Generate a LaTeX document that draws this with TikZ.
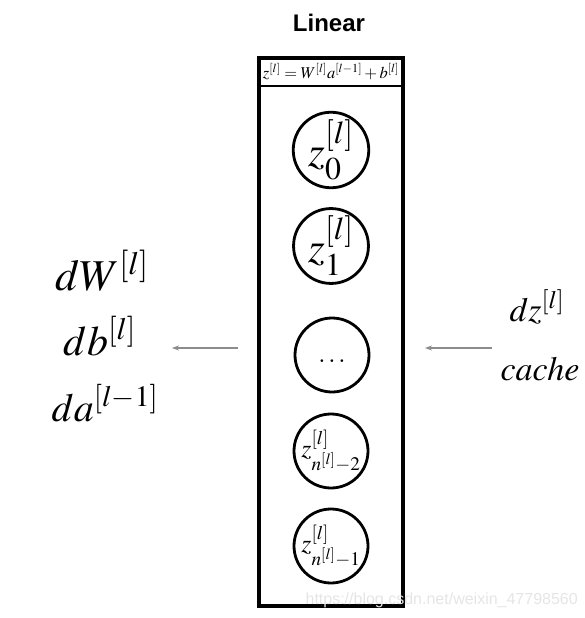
\documentclass[tikz,border=0pt]{standalone}
\usepackage{mathptmx}
\usepackage{fontspec}
\newfontfamily\headfont{Liberation Sans}
\usetikzlibrary{arrows.meta}
\begin{document}
\begin{tikzpicture}[x=1pt,y=-1pt,
  unit/.style={circle,draw=black,line width=2.8pt,minimum size=74pt,inner sep=0pt},
  grad/.style={anchor=base,inner sep=0pt,font=\fontsize{43}{46}\selectfont},
  rgrad/.style={anchor=base,inner sep=0pt,font=\fontsize{34}{38}\selectfont},
  flow/.style={draw=gray!90,line width=1.1pt,-{Stealth[length=7pt,width=5pt]}}]
\useasboundingbox (0,0) rectangle (585,618);
\node[font=\headfont\bfseries\fontsize{24}{28}\selectfont,anchor=base,inner sep=0pt] (title) at (329,32) {Linear};
\node[draw=black,line width=3.5pt,minimum width=144pt,minimum height=548pt,inner sep=0pt] (box) at (331,332) {};
\coordinate (sl) at (259,86);
\coordinate (sr) at (403,86);
\draw[line width=1.8pt] (sl) -- (sr);
\node[font=\fontsize{16.5}{18}\selectfont,inner sep=0pt,anchor=base] (eq) at (331,78) {$z^{[l]}=W^{[l]}a^{[l-1]}+b^{[l]}$};
\node[unit,font=\fontsize{43}{46}\selectfont] (c0) at (331,150) {$z_0^{[l]}$};
\node[unit,font=\fontsize{43}{46}\selectfont] (c1) at (331,246) {$z_1^{[l]}$};
\node[unit,font=\fontsize{26}{27}\selectfont] (c2) at (332,355) {\boldmath$\ldots$\rule{0pt}{14pt}};
\node[unit,font=\fontsize{26}{28}\selectfont] (c3) at (331,451) {$z_{n^{[l]}-2}^{[l]}$};
\node[unit,font=\fontsize{26}{28}\selectfont] (c4) at (331,546) {$z_{n^{[l]}-1}^{[l]}$};
\node[grad,font=\fontsize{44}{46}\selectfont] (dw) at (102,290) {$dW^{[l]}$};
\node[grad,font=\fontsize{42}{46}\selectfont] (db) at (100,355) {$db^{[l]}$};
\node[grad,font=\fontsize{40}{46}\selectfont] (da) at (105,421) {$da^{[l-1]}$};
\node[rgrad] (dz) at (537,321) {$dz^{[l]}$};
\node[rgrad] (cache) at (540,380) {$cache$};
\coordinate (la) at (238,348);
\coordinate (lb) at (172,348);
\coordinate (ra) at (492,348);
\coordinate (rb) at (425,348);
\draw[flow] (la) -- (lb);
\draw[flow] (ra) -- (rb);
\node[font=\headfont\fontsize{16}{18}\selectfont,text=gray!20,anchor=east,inner sep=0pt] (wm) at (578,600) {https://blog.csdn.net/weixin\_47798560};
\end{tikzpicture}
\end{document}
